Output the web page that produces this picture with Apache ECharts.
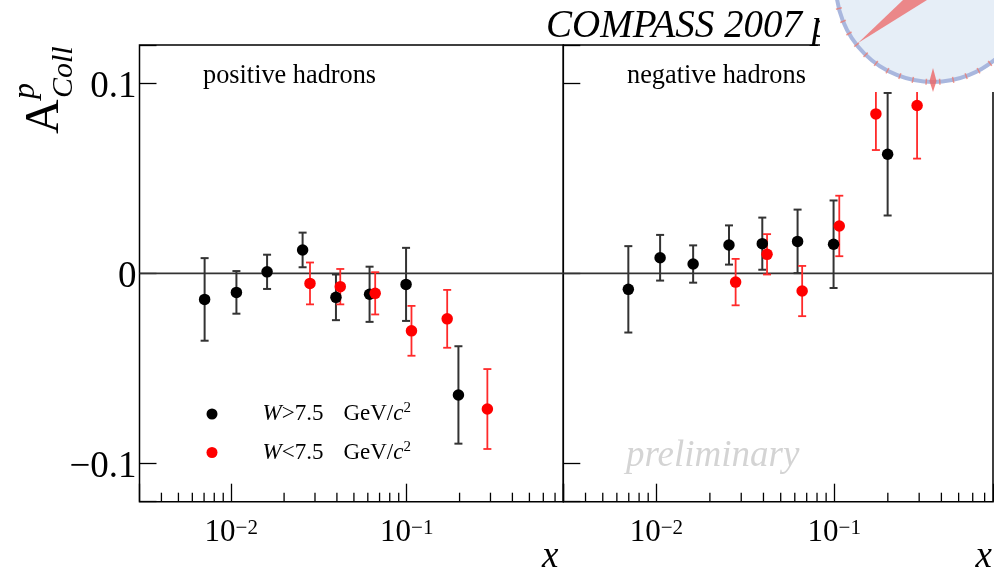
<!DOCTYPE html>
<html><head><meta charset="utf-8">
<script src="https://cdn.jsdelivr.net/npm/echarts@6/dist/echarts.min.js"></script>
<style>html,body{margin:0;padding:0;background:#fff}#c{width:994px;height:574px}</style>
</head><body><div id="c"></div>
<script>
const SERIF = '"Liberation Serif","DejaVu Serif",serif';

// axis ranges and tick values
const xRange = [0.003, 0.78];
const yRange = [-0.12, 0.12];
const minorTicks = [0.004,0.005,0.006,0.007,0.008,0.009,0.02,0.03,0.04,0.05,0.06,0.07,0.08,0.09,0.2,0.3,0.4,0.5,0.6,0.7];
const panelLabels = ['positive hadrons', 'negative hadrons'];
const seriesNames = ['W>7.5 GeV/c2', 'W<7.5 GeV/c2'];

// positive hadrons, W > 7.5 GeV/c^2
const posHiX   = [0.00705, 0.0107, 0.0160, 0.0255, 0.0395, 0.0614, 0.0991, 0.197];
const posHiY   = [-0.0137, -0.0100, 0.0008, 0.0123, -0.0126, -0.0110, -0.0058, -0.0639];
const posHiErr = [0.0217, 0.0112, 0.0090, 0.0091, 0.0120, 0.0145, 0.0192, 0.0256];
// positive hadrons, W < 7.5 GeV/c^2
const posLoX   = [0.0281, 0.0418, 0.0661, 0.1064, 0.170, 0.288];
const posLoY   = [-0.0053, -0.0070, -0.0105, -0.0302, -0.0239, -0.0713];
const posLoErr = [0.0110, 0.0093, 0.0111, 0.0131, 0.0152, 0.0210];
// negative hadrons, W > 7.5 GeV/c^2
const negHiX   = [0.00696, 0.0105, 0.0161, 0.0256, 0.0394, 0.0622, 0.0991, 0.1995];
const negHiY   = [-0.0084, 0.0082, 0.0049, 0.0149, 0.0156, 0.0168, 0.0153, 0.0626];
const negHiErr = [0.0227, 0.0120, 0.0098, 0.0103, 0.0137, 0.0167, 0.0230, 0.0322];
// negative hadrons, W < 7.5 GeV/c^2
const negLoX   = [0.0279, 0.0419, 0.0660, 0.1067, 0.1714, 0.292];
const negLoY   = [-0.0046, 0.0100, -0.0093, 0.0249, 0.0838, 0.0882];
const negLoErr = [0.0122, 0.0106, 0.0132, 0.0159, 0.0190, 0.0279];

const BLACK = '#000000', RED = '#ff0000';

function xFmt(v) {
  const e = Math.log10(v);
  if (Math.abs(e - Math.round(e)) < 1e-6 && v > xRange[0] * 1.01 && v < xRange[1] / 1.01) {
    const k = Math.round(e);
    return '{b|10}{s|' + (k < 0 ? '\u2212' + (-k) : k) + '}';
  }
  return '';
}
function yFmt(v) {
  if (Math.abs(v) < 1e-9) return '0';
  if (Math.abs(Math.abs(v) - 0.1) < 1e-9) return (v < 0 ? '\u2212' : '') + '0.1';
  return '';
}

function scatter(xs, ys, g, name, color) {
  return { type: 'scatter', name: name, xAxisIndex: g, yAxisIndex: g,
    data: xs.map((x, i) => [x, ys[i]]), symbol: 'circle', symbolSize: 11.5,
    itemStyle: { color: color, opacity: 1 }, z: 5, silent: true };
}
function errBars(xs, ys, es, g, color, w) {
  return { type: 'custom', xAxisIndex: g, yAxisIndex: g, z: 4, silent: true,
    data: xs.map((x, i) => [x, ys[i] - es[i], ys[i] + es[i]]),
    renderItem: (p, api) => {
      const lo = api.coord([api.value(0), api.value(1)]);
      const hi = api.coord([api.value(0), api.value(2)]);
      const c = 4, st = { stroke: color, lineWidth: w };
      return { type: 'group', children: [
        { type: 'line', shape: { x1: lo[0], y1: lo[1], x2: hi[0], y2: hi[1] }, style: st },
        { type: 'line', shape: { x1: lo[0] - c, y1: lo[1], x2: lo[0] + c, y2: lo[1] }, style: st },
        { type: 'line', shape: { x1: hi[0] - c, y1: hi[1], x2: hi[0] + c, y2: hi[1] }, style: st }
      ]};
    } };
}
function minorTickSeries(g) {
  return { type: 'custom', xAxisIndex: g, yAxisIndex: g, z: 3, silent: true,
    data: minorTicks.map(v => [v, yRange[0]]),
    renderItem: (p, api) => {
      const pt = api.coord([api.value(0), api.value(1)]);
      return { type: 'line', shape: { x1: pt[0], y1: pt[1], x2: pt[0], y2: pt[1] - 9 },
        style: { stroke: '#000', lineWidth: 1.3 } };
    } };
}
function zeroLine(g) {
  return { type: 'line', xAxisIndex: g, yAxisIndex: g, z: 2, silent: true, showSymbol: false,
    data: [[xRange[0], 0], [xRange[1], 0]], lineStyle: { color: '#333', width: 1.8 } };
}

const grids = [
  { left: 139.5, top: 45, width: 423.8, height: 456.7 },
  { left: 563.3, top: 45, width: 429.7, height: 456.7 }
];
const xNameGap = [-5, -1];

const option = {
  backgroundColor: '#fff',
  animation: false,
  title: { text: 'COMPASS 2007 p', left: 546, top: 7, padding: 0,
    textStyle: { fontFamily: SERIF, fontStyle: 'italic', fontWeight: 'normal', fontSize: 39, color: '#000' } },
  grid: grids.map(g => Object.assign({ show: true, borderColor: '#000', borderWidth: 1.5, backgroundColor: 'transparent',
    containLabel: false, outerBoundsMode: 'none' }, g)),
  xAxis: grids.map((g, i) => ({
    type: 'log', logBase: 10, gridIndex: i, min: xRange[0], max: xRange[1], position: 'bottom',
    axisLine: { show: false, onZero: false }, splitLine: { show: false },
    axisTick: { inside: true, length: 18, lineStyle: { color: '#000', width: 1.3 } },
    axisLabel: { margin: 16, formatter: xFmt, color: '#000',
      rich: { b: { fontFamily: SERIF, fontSize: 31, lineHeight: 31, color: '#000' },
              s: { fontFamily: SERIF, fontSize: 21, lineHeight: 15, verticalAlign: 'top', color: '#000' } } },
    name: 'x', nameLocation: 'end', nameGap: xNameGap[i],
    nameTextStyle: { fontFamily: SERIF, fontStyle: 'italic', fontSize: 37, color: '#000',
      align: 'right', verticalAlign: 'top', padding: [37, 0, 0, 0] }
  })),
  yAxis: grids.map((g, i) => ({
    type: 'value', gridIndex: i, min: yRange[0], max: yRange[1], splitNumber: 2, minInterval: 0.1, maxInterval: 0.1,
    axisLine: { show: false, onZero: false }, splitLine: { show: false },
    axisTick: { inside: true, length: 17, lineStyle: { color: '#000', width: 1.3 } },
    axisLabel: { show: i === 0, margin: 3, formatter: yFmt, color: '#000', fontFamily: SERIF, fontSize: 37,
      verticalAlign: 'top', lineHeight: 8 }
  })),
  legend: {
    left: 201.5, top: 396, orient: 'vertical', itemWidth: 11, itemHeight: 11, itemGap: 14,
    selectedMode: false, icon: 'circle',
    data: [{ name: seriesNames[0], itemStyle: { color: BLACK } }, { name: seriesNames[1], itemStyle: { color: RED } }],
    formatter: n => '{sp|}{i|W}{n|' + (n === seriesNames[0] ? '>' : '<') + '7.5}{g|GeV/}{i|c}{s|2}',
    textStyle: { color: '#000', rich: {
      sp: { width: 40, lineHeight: 26 },
      i: { fontFamily: SERIF, fontStyle: 'italic', fontSize: 23, lineHeight: 26, color: '#000' },
      n: { fontFamily: SERIF, fontSize: 23, lineHeight: 26, color: '#000' },
      g: { fontFamily: SERIF, fontSize: 23, lineHeight: 26, color: '#000', padding: [0, 0, 0, 20] },
      s: { fontFamily: SERIF, fontSize: 15, lineHeight: 18, verticalAlign: 'top', color: '#000' }
    } }
  },
  series: [
    zeroLine(0), zeroLine(1), minorTickSeries(0), minorTickSeries(1),
    errBars(posHiX, posHiY, posHiErr, 0, '#333', 2),
    errBars(posLoX, posLoY, posLoErr, 0, '#ff2a2a', 1.8),
    errBars(negHiX, negHiY, negHiErr, 1, '#333', 2),
    errBars(negLoX, negLoY, negLoErr, 1, '#ff2a2a', 1.8),
    scatter(posHiX, posHiY, 0, seriesNames[0], BLACK),
    scatter(posLoX, posLoY, 0, seriesNames[1], RED),
    scatter(negHiX, negHiY, 1, seriesNames[0], BLACK),
    scatter(negLoX, negLoY, 1, seriesNames[1], RED)
  ],
  graphic: { elements: [] }
};

const G = option.graphic.elements;
// panel labels
G.push({ type: 'text', x: 203, y: 76, z: 10, style: { text: panelLabels[0], font: '26.3px ' + SERIF, fill: '#000', textAlign: 'left', textVerticalAlign: 'middle' } });
G.push({ type: 'text', x: 627, y: 76, z: 10, style: { text: panelLabels[1], font: '26.3px ' + SERIF, fill: '#000', textAlign: 'left', textVerticalAlign: 'middle' } });
// preliminary watermark
G.push({ type: 'text', x: 626, y: 456, z: 1, style: { text: 'preliminary', font: 'italic 37px ' + SERIF, fill: '#d4d4d4', textAlign: 'left', textVerticalAlign: 'middle' } });
// y-axis title A^p_Coll (rotated)
G.push({ type: 'text', x: 45, y: 134, rotation: Math.PI / 2, z: 10, style: { text: 'A', font: '48px ' + SERIF, fill: '#000', textAlign: 'left', textVerticalAlign: 'middle' } });
G.push({ type: 'text', x: 26, y: 99, rotation: Math.PI / 2, z: 10, style: { text: 'p', font: 'italic 32px ' + SERIF, fill: '#000', textAlign: 'left', textVerticalAlign: 'middle' } });
G.push({ type: 'text', x: 64, y: 98, rotation: Math.PI / 2, z: 10, style: { text: 'Coll', font: 'italic 30px ' + SERIF, fill: '#000', textAlign: 'left', textVerticalAlign: 'middle' } });
// logo (decoration)
G.push({ type: 'rect', z: 50, shape: { x: 820, y: 0, width: 174, height: 92 }, style: { fill: '#ffffff' } });
G.push({ type: 'circle', z: 51, shape: { cx: 933, cy: -15, r: 97 }, style: { fill: '#e6eef7', stroke: '#a9b7de', lineWidth: 4 } });
for (let a = 14; a <= 166; a += 8) {
  const t = a * Math.PI / 180, c = Math.cos(t), s = Math.sin(t);
  G.push({ type: 'line', z: 52, shape: { x1: 933 + 94 * c, y1: -15 + 94 * s, x2: 933 + 100 * c, y2: -15 + 100 * s },
    style: { stroke: 'rgba(236,120,110,0.75)', lineWidth: 1.5 } });
}
G.push({ type: 'polygon', z: 53, shape: { points: [[933, 68], [936.5, 81], [933, 92], [929.5, 81]] }, style: { fill: 'rgba(236,100,100,0.8)' } });
G.push({ type: 'polygon', z: 53, shape: { points: [[858, 43], [903, 0], [927, 0]] }, style: { fill: 'rgba(236,100,100,0.75)' } });

const chart = echarts.init(document.getElementById('c'), null, { renderer: 'canvas' });
chart.setOption(option);
</script>
</body></html>
